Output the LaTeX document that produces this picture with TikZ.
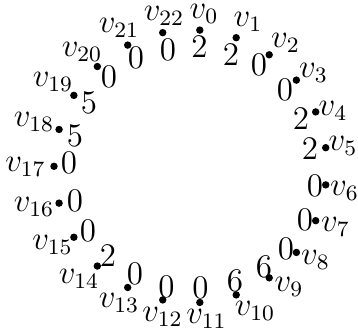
\documentclass[tikz,border=0pt]{standalone}
\begin{document}
\begin{tikzpicture}[x=0.36364pt, y=-0.36364pt,
  dot/.style={circle,fill,inner sep=0pt,minimum size=2.7pt},
  txt/.style={inner sep=0pt,anchor=center,font=\large}]
\useasboundingbox (0,0) rectangle (358,333);
\foreach \i/\lx/\ly/\nx/\ny/\n in {
  0/204/14/199.5/46.5/2,
  1/248/22/231/55/2,
  2/285.5/43/259/65/0,
  3/313.5/73/285/90/0,
  4/333/111/301/119/2,
  5/343/146/310/148.5/2,
  6/344.5/191/315/186/0,
  7/335.5/227/305/220/0,
  8/315.5/260/286/249/0,
  9/289/287/264/267/6,
  10/255/311/235/281/6,
  11/206.5/318.5/200.5/288/0,
  12/162.5/316.7/166.5/287/0,
  13/119/303/135/274/0,
  14/79/279/108/256/2,
  15/52.5/245/88/231/0,
  16/34/207/75/201/0,
  17/25.5/166.7/69/163.3/0,
  18/34/122/75/136/5,
  19/53/82/89/103/5,
  20/82/52/109/77/0,
  21/119/28/136/58/0,
  22/164/16/168/50/0} {
  \pgfmathsetmacro\a{86.09-\i*360/23}
  \node[dot] (v\i) at ({190.5+136.5*cos(\a)},{166.3-136.5*sin(\a)}) {};
  \node[txt] (l\i) at (\lx,\ly) {$v_{\i}$};
  \node[txt] (n\i) at (\nx,\ny) {\n};
}
\end{tikzpicture}
\end{document}
